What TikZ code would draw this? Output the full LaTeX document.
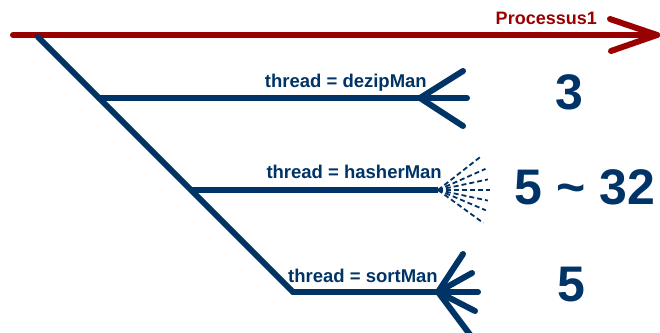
\documentclass[tikz,border=0pt]{standalone}
\usepackage{fontspec}
\setmainfont{Liberation Sans}
\definecolor{navy}{RGB}{0,51,102}
\definecolor{darkred}{RGB}{153,0,0}
\tikzset{
  thick line/.style={line width=6pt, line cap=round, line join=round},
  bus/.style={thick line, draw=darkred},
  branch/.style={thick line, draw=navy},
  spray/.style={draw=navy, line width=1.8pt, dash pattern=on 5pt off 3pt},
  lbl/.style={font=\bfseries\fontsize{18.5}{18.5}\selectfont, text=navy, inner sep=0pt, anchor=base east},
  count/.style={font=\bfseries\fontsize{50}{50}\selectfont, text=navy, inner sep=0pt},
}
\begin{document}
\begin{tikzpicture}[x=1pt, y=-1pt]
\useasboundingbox (0,0) rectangle (660,332);

% main process line
\coordinate (pstart) at (13,35);
\coordinate (ptip) at (657,35);
\coordinate (pup) at (610,19);
\coordinate (plow) at (611,51);
\draw[bus] (pstart) -- (ptip);
\draw[bus] (pup) -- (ptip) -- (plow);
\node[font=\bfseries\fontsize{18}{18}\selectfont, text=darkred, inner sep=0pt, anchor=base east] (proc) at (597,24) {Processus1};

% diagonal trunk and its three branches
\coordinate (tstart) at (38,37);
\coordinate (b1) at (99,98);
\coordinate (b2) at (191,190);
\coordinate (b3) at (293,292);
\draw[branch] (tstart) -- (b3);

% dezipMan branch
\coordinate (d0) at (420,98);
\coordinate (dend) at (467,98);
\coordinate (dup) at (463,71);
\coordinate (dlow) at (463,126);
\draw[branch] (b1) -- (dend);
\draw[branch] (dup) -- (d0) -- (dlow);
\node[lbl] (tdezip) at (427,87) {thread = dezipMan};
\node[count] (n3) at (569,92) {3};

% hasherMan branch
\coordinate (h0) at (438,190);
\draw[branch, line cap=butt] (b2) -- (h0);
\foreach \a/\r in {36/56, 23/52, 12/51, 0/52, -12/51, -24/52, -38/56}
  \draw[spray] (h0) -- ++(\a:\r);
\node[lbl] (thasher) at (442,178) {thread = hasherMan};
\node[count] (n532) at (585,187) {5 \char`\~{} 32};

% sortMan branch
\coordinate (s0) at (438,292);
\coordinate (send) at (478,292);
\coordinate (su1) at (463,254);
\coordinate (su2) at (472,273);
\coordinate (sl1) at (475,311);
\coordinate (sl2) at (474,340);
\draw[branch] (b3) -- (send);
\draw[branch] (s0) -- (su1);
\draw[branch] (s0) -- (su2);
\draw[branch] (s0) -- (sl1);
\draw[branch] (s0) -- (sl2);
\node[lbl] (tsort) at (438,282) {thread = sortMan};
\node[count] (n5) at (571,285) {5};
\end{tikzpicture}
\end{document}
